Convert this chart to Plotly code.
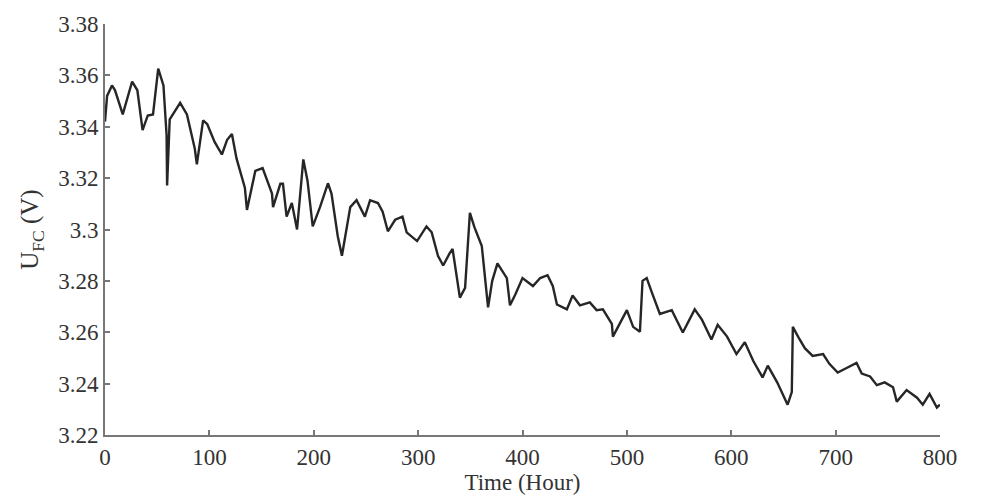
import plotly.graph_objects as go

# Time (hours) and fuel-cell voltage (V)
time_h = [0, 2, 6.7, 9.6, 17, 26, 31, 36, 41, 46, 51, 56, 59, 59.5, 62, 72, 78.5, 86, 88, 94,
          98, 105, 112, 117, 121.6, 126, 134, 136, 144, 151, 160, 161, 168, 170.5, 174, 179, 184, 189, 190, 194,
          199, 206, 213.6, 217, 223, 227, 235, 241, 249, 254, 261.5, 266, 271, 278, 285, 289, 299, 308, 313, 319,
          324, 330, 333, 340, 345, 349.6, 354, 361, 367, 371, 376, 385, 388, 393, 400, 410, 417, 424, 429, 433,
          442.5, 448, 455, 464.5, 471, 477, 485.6, 486.6, 493, 500, 506, 512.5, 515, 519, 524, 531.6, 543, 553.6, 565, 572,
          581, 587, 596, 605, 613, 621, 630, 635, 644, 648.5, 654, 658, 659, 664, 670.5, 678, 688, 694, 702, 711,
          720, 725, 733, 739.5, 747, 755, 758.6, 768, 778, 783.5, 790, 797, 800]
u_fc = [3.342, 3.352, 3.3561, 3.3542, 3.3448, 3.3576, 3.3542, 3.3387, 3.3444, 3.3448, 3.3626, 3.3561, 3.3368, 3.3171, 3.3429, 3.3493, 3.3448, 3.3315, 3.3254, 3.3425,
        3.341, 3.3341, 3.3292, 3.3349, 3.3372, 3.3277, 3.3163, 3.3076, 3.3228, 3.3239, 3.314, 3.3087, 3.3178, 3.3178, 3.305, 3.3103, 3.300, 3.3228, 3.3273, 3.319,
        3.3012, 3.3087, 3.318, 3.314, 3.2974, 3.2898, 3.3087, 3.3114, 3.305, 3.3114, 3.3103, 3.3069, 3.2993, 3.3038, 3.305, 3.2989, 3.2955, 3.3012, 3.2989, 3.2898,
        3.286, 3.2906, 3.2924, 3.2735, 3.2773, 3.3065, 3.3008, 3.2936, 3.2697, 3.280, 3.2868, 3.2811, 3.2705, 3.2746, 3.2811, 3.278, 3.2811, 3.2822, 3.278, 3.2708,
        3.2689, 3.2743, 3.2705, 3.2716, 3.2686, 3.2689, 3.2633, 3.2583, 3.2633, 3.2686, 3.2621, 3.2602, 3.280, 3.2811, 3.2754, 3.2671, 3.2686, 3.2599, 3.2689, 3.2648,
        3.2572, 3.2629, 3.2583, 3.2515, 3.2561, 3.2489, 3.2424, 3.247, 3.2405, 3.2367, 3.2318, 3.2367, 3.2621, 3.2583, 3.2538, 3.2508, 3.2515, 3.2477, 3.2443, 3.2462,
        3.2481, 3.2439, 3.2428, 3.2394, 3.2405, 3.2386, 3.233, 3.2375, 3.2345, 3.2318, 3.236, 3.2307, 3.2318]

x_ticks = [0, 100, 200, 300, 400, 500, 600, 700, 800]
y_ticks = [3.22, 3.24, 3.26, 3.28, 3.30, 3.32, 3.34, 3.36, 3.38]
y_tick_text = ["3.22", "3.24", "3.26", "3.28", "3.3", "3.32", "3.34", "3.36", "3.38"]

font_family = "Liberation Serif, Times New Roman, serif"

fig = go.Figure()
fig.add_trace(go.Scatter(
    x=time_h, y=u_fc, mode="lines",
    line=dict(color="#262626", width=2.4),
    showlegend=False,
))

fig.update_layout(
    width=983, height=503,
    margin=dict(l=105, r=43, t=19, b=62),
    paper_bgcolor="white", plot_bgcolor="white",
    font=dict(family=font_family, size=23, color="#333333"),
)
fig.update_xaxes(
    range=[0, 800], tickvals=x_ticks, ticks="inside", ticklen=5, tickwidth=2,
    tickcolor="#777777", showline=True, linecolor="#777777", linewidth=2,
    showgrid=False, zeroline=False,
    title=dict(text="Time (Hour)", standoff=5, font=dict(size=23)),
)
fig.update_yaxes(
    range=[3.22, 3.38], tickvals=y_ticks, ticktext=y_tick_text, ticks="inside", ticklen=5, tickwidth=2,
    tickcolor="#777777", showline=True, linecolor="#777777", linewidth=2,
    showgrid=False, zeroline=False,
    title=dict(text="U<sub>FC</sub> (V)", standoff=12, font=dict(size=25)),
)

fig.write_html("out.html")
